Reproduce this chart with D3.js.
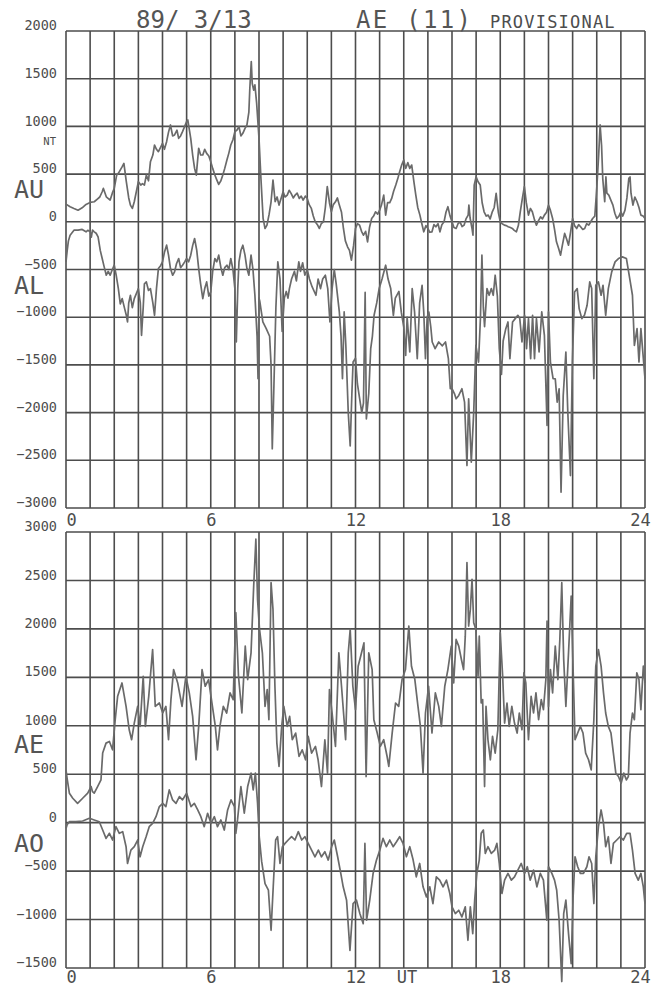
<!DOCTYPE html>
<html><head><meta charset="utf-8">
<script src="https://cdn.jsdelivr.net/npm/d3@7"></script>
<style>
html,body{margin:0;padding:0;background:#fff}
svg{display:block}
</style>
</head><body>
<svg id="chart" width="668" height="988"></svg>
<script>
// AE index family, 1989-03-13, provisional. Each series is [UT hour, nT].
const AU = [[0,185],[0.17,158],[0.33,140],[0.5,122],[0.67,147],[0.83,182],[1.0,203],[1.17,210],[1.3,238],[1.4,260],[1.5,315],[1.55,350],[1.67,262],[1.83,228],[1.92,300],[2.0,350],[2.1,490],[2.17,508],[2.33,578],[2.4,612],[2.5,420],[2.6,250],[2.67,175],[2.75,140],[2.83,210],[3.0,420],[3.1,385],[3.17,400],[3.25,385],[3.33,490],[3.42,430],[3.5,630],[3.6,700],[3.67,805],[3.75,760],[3.83,735],[3.92,780],[4.0,822],[4.08,760],[4.17,840],[4.25,940],[4.33,1015],[4.42,900],[4.5,910],[4.6,960],[4.67,875],[4.75,900],[4.83,945],[4.92,1000],[5.0,1050],[5.05,1067],[5.17,875],[5.25,700],[5.33,560],[5.4,490],[5.5,770],[5.58,700],[5.67,700],[5.75,760],[5.83,717],[5.92,690],[6.0,630],[6.08,560],[6.17,490],[6.25,440],[6.33,392],[6.42,430],[6.5,490],[6.58,560],[6.67,647],[6.75,720],[6.83,805],[6.92,860],[7.0,945],[7.08,960],[7.17,997],[7.25,900],[7.33,927],[7.42,980],[7.5,1015],[7.58,1150],[7.62,1400],[7.68,1680],[7.72,1450],[7.78,1380],[7.83,1435],[7.9,1250],[8.0,875],[8.08,455],[8.17,35],[8.25,-70],[8.33,-35],[8.42,80],[8.5,210],[8.58,438],[8.67,210],[8.75,260],[8.83,175],[8.92,250],[9.0,315],[9.08,260],[9.17,280],[9.25,330],[9.33,298],[9.42,250],[9.5,280],[9.58,300],[9.67,245],[9.75,270],[9.83,228],[9.92,270],[10.0,245],[10.08,180],[10.17,140],[10.25,60],[10.33,0],[10.42,-30],[10.5,-70],[10.58,-20],[10.67,0],[10.75,150],[10.83,368],[10.92,200],[11.0,105],[11.08,180],[11.17,210],[11.25,250],[11.33,175],[11.42,100],[11.5,-70],[11.58,-200],[11.67,-262],[11.75,-300],[11.83,-402],[11.92,-250],[12.0,-70],[12.08,-20],[12.17,-35],[12.25,-100],[12.33,-140],[12.42,-100],[12.5,-210],[12.58,-60],[12.67,35],[12.75,60],[12.83,105],[12.92,80],[13.0,122],[13.08,180],[13.17,280],[13.25,70],[13.33,200],[13.42,200],[13.5,245],[13.58,320],[13.67,385],[13.75,450],[13.83,525],[13.92,600],[14.0,647],[14.08,560],[14.17,620],[14.25,560],[14.33,595],[14.42,420],[14.5,280],[14.58,150],[14.67,70],[14.75,-20],[14.83,-105],[14.92,-40],[15.0,-70],[15.08,-110],[15.17,-105],[15.25,-30],[15.33,-52],[15.42,-20],[15.5,-105],[15.58,-30],[15.67,0],[15.75,100],[15.83,158],[15.92,60],[16.0,0],[16.08,-60],[16.17,-70],[16.25,-20],[16.33,0],[16.42,-50],[16.5,-35],[16.58,30],[16.67,70],[16.7,175],[16.75,40],[16.83,-70],[16.87,-140],[16.92,385],[17.0,472],[17.08,420],[17.17,385],[17.25,200],[17.33,105],[17.42,60],[17.5,70],[17.58,30],[17.67,105],[17.75,150],[17.83,298],[17.92,100],[18.0,0],[18.08,-20],[18.17,-35],[18.25,-40],[18.33,-52],[18.42,-60],[18.5,-70],[18.58,-90],[18.67,-105],[18.75,-40],[18.83,105],[18.92,250],[19.0,368],[19.08,200],[19.17,70],[19.25,140],[19.33,105],[19.42,20],[19.5,-35],[19.58,10],[19.67,52],[19.75,30],[19.83,70],[19.92,100],[20.0,175],[20.08,120],[20.17,35],[20.25,-80],[20.33,-210],[20.42,-280],[20.5,-350],[20.58,-240],[20.67,-122],[20.75,-180],[20.83,-245],[20.92,-100],[21.0,35],[21.08,-40],[21.17,-70],[21.25,-30],[21.33,-52],[21.42,-80],[21.5,-70],[21.58,-20],[21.67,-35],[21.75,0],[21.83,35],[21.92,60],[22.0,350],[22.08,700],[22.14,1015],[22.2,800],[22.25,450],[22.33,210],[22.38,470],[22.42,300],[22.5,280],[22.58,230],[22.67,175],[22.75,90],[22.83,35],[22.92,60],[23.0,105],[23.08,60],[23.17,122],[23.25,250],[23.33,455],[23.38,470],[23.42,300],[23.5,175],[23.58,260],[23.67,210],[23.75,150],[23.83,70],[23.92,60],[24.0,35]];

const AL = [[0,-420],[0.05,-300],[0.1,-200],[0.17,-140],[0.33,-88],[0.5,-88],[0.67,-80],[0.83,-105],[0.9,-90],[1.0,-100],[1.05,-160],[1.1,-88],[1.17,-105],[1.25,-120],[1.33,-158],[1.42,-300],[1.5,-385],[1.58,-470],[1.67,-560],[1.75,-520],[1.83,-560],[1.92,-500],[2.0,-455],[2.08,-560],[2.17,-700],[2.25,-860],[2.33,-805],[2.42,-900],[2.5,-980],[2.55,-1050],[2.6,-850],[2.67,-770],[2.75,-900],[2.83,-805],[2.92,-750],[3.0,-700],[3.08,-850],[3.13,-1190],[3.2,-900],[3.25,-650],[3.33,-630],[3.42,-720],[3.5,-700],[3.6,-850],[3.67,-980],[3.75,-700],[3.83,-490],[3.92,-460],[4.0,-420],[4.08,-320],[4.17,-245],[4.25,-350],[4.33,-490],[4.42,-560],[4.5,-525],[4.58,-440],[4.67,-385],[4.75,-480],[4.83,-455],[4.92,-420],[5.0,-385],[5.08,-420],[5.17,-350],[5.25,-250],[5.33,-175],[5.42,-300],[5.5,-490],[5.58,-650],[5.67,-805],[5.75,-700],[5.83,-630],[5.92,-780],[6.0,-735],[6.08,-520],[6.17,-385],[6.25,-420],[6.33,-350],[6.42,-480],[6.5,-560],[6.58,-480],[6.67,-455],[6.75,-500],[6.83,-385],[6.92,-500],[7.0,-700],[7.06,-1260],[7.12,-700],[7.17,-420],[7.25,-300],[7.33,-245],[7.42,-350],[7.5,-490],[7.58,-560],[7.67,-350],[7.75,-500],[7.83,-770],[7.92,-1200],[7.96,-1645],[8.0,-800],[8.03,-830],[8.16,-1050],[8.3,-1120],[8.44,-1200],[8.5,-1500],[8.55,-2380],[8.62,-1700],[8.7,-900],[8.78,-420],[8.87,-600],[8.96,-1150],[9.05,-800],[9.13,-730],[9.2,-800],[9.26,-700],[9.35,-600],[9.47,-520],[9.55,-620],[9.65,-420],[9.72,-520],[9.81,-430],[9.9,-560],[10.0,-500],[10.09,-600],[10.2,-680],[10.36,-770],[10.45,-600],[10.55,-700],[10.64,-600],[10.75,-560],[10.85,-700],[10.94,-1050],[11.03,-700],[11.12,-500],[11.2,-650],[11.33,-945],[11.4,-1200],[11.46,-1645],[11.53,-945],[11.6,-1300],[11.7,-2000],[11.78,-2350],[11.85,-1800],[11.9,-1470],[12.0,-1430],[12.08,-1700],[12.17,-1850],[12.26,-2000],[12.33,-1900],[12.4,-740],[12.45,-2065],[12.55,-1800],[12.63,-1330],[12.7,-1200],[12.77,-980],[12.88,-850],[12.98,-700],[13.1,-600],[13.25,-455],[13.35,-600],[13.46,-700],[13.57,-980],[13.65,-800],[13.8,-730],[13.9,-950],[14.0,-1100],[14.08,-1400],[14.14,-1000],[14.25,-1365],[14.35,-700],[14.45,-950],[14.56,-1435],[14.66,-850],[14.76,-665],[14.83,-950],[14.9,-1435],[14.97,-1000],[15.04,-945],[15.12,-1100],[15.18,-1260],[15.3,-1330],[15.45,-1260],[15.6,-1300],[15.73,-1260],[15.85,-1435],[15.93,-1750],[16.0,-1750],[16.1,-1800],[16.17,-1855],[16.28,-1820],[16.41,-1750],[16.52,-1890],[16.62,-2555],[16.69,-1855],[16.8,-2520],[16.9,-1995],[16.99,-1295],[17.1,-1470],[17.18,-1000],[17.24,-350],[17.3,-900],[17.35,-1100],[17.45,-700],[17.54,-770],[17.63,-700],[17.71,-770],[17.79,-560],[17.88,-780],[17.96,-1330],[18.05,-1600],[18.12,-1250],[18.23,-1120],[18.32,-1050],[18.4,-1435],[18.51,-1050],[18.62,-1015],[18.73,-980],[18.81,-1015],[18.9,-1260],[19.01,-980],[19.09,-1330],[19.17,-1015],[19.26,-1435],[19.34,-980],[19.42,-1435],[19.5,-1015],[19.61,-1365],[19.72,-945],[19.83,-1190],[19.94,-2135],[20.0,-945],[20.08,-1470],[20.19,-1645],[20.28,-1645],[20.36,-1890],[20.44,-1750],[20.52,-2835],[20.61,-1820],[20.72,-1365],[20.8,-1995],[20.91,-2660],[20.99,-1470],[21.08,-735],[21.19,-700],[21.27,-910],[21.38,-1015],[21.49,-980],[21.6,-875],[21.71,-630],[21.79,-700],[21.88,-1645],[21.96,-665],[22.07,-630],[22.18,-770],[22.26,-665],[22.37,-980],[22.48,-700],[22.62,-525],[22.76,-420],[22.9,-385],[23.06,-368],[23.23,-385],[23.39,-630],[23.48,-770],[23.56,-1295],[23.67,-1120],[23.75,-1470],[23.83,-1120],[24.0,-1645]];

const AE = [[0,545],[0.05,450],[0.14,304],[0.28,252],[0.48,200],[0.69,252],[0.9,304],[1.04,373],[1.1,320],[1.17,304],[1.31,373],[1.45,442],[1.52,718],[1.66,821],[1.8,838],[1.93,752],[2.04,1063],[2.14,1304],[2.32,1442],[2.49,1200],[2.62,959],[2.72,856],[2.83,1028],[2.97,1200],[3.07,994],[3.2,1511],[3.29,994],[3.43,1304],[3.59,1787],[3.7,1200],[3.87,1235],[4.01,1132],[4.14,1200],[4.25,856],[4.35,1270],[4.46,1580],[4.63,1442],[4.81,1200],[4.97,1511],[5.11,1339],[5.25,1097],[5.39,649],[5.5,994],[5.64,1580],[5.77,1408],[5.91,1477],[6.05,1235],[6.19,994],[6.28,752],[6.38,994],[6.52,1200],[6.66,1132],[6.8,1339],[6.93,1270],[7.04,2167],[7.15,1511],[7.29,1132],[7.43,1822],[7.53,1477],[7.67,1753],[7.78,2443],[7.87,2926],[7.94,2305],[8.02,2000],[8.14,1753],[8.25,1200],[8.34,1373],[8.41,1063],[8.5,2477],[8.58,2201],[8.66,1408],[8.74,821],[8.83,580],[8.94,994],[9.03,1200],[9.17,994],[9.27,1097],[9.38,856],[9.52,925],[9.66,683],[9.79,752],[9.93,649],[10.04,890],[10.18,718],[10.34,787],[10.45,649],[10.59,373],[10.73,856],[10.84,511],[10.92,1373],[11.03,1132],[11.17,787],[11.31,1753],[11.42,1408],[11.59,856],[11.7,1753],[11.78,1995],[11.89,1408],[12.0,1166],[12.11,1615],[12.25,1753],[12.35,1856],[12.44,476],[12.55,1753],[12.69,1580],[12.76,1063],[12.9,925],[13.03,787],[13.17,856],[13.31,683],[13.38,580],[13.52,925],[13.66,1235],[13.79,1200],[13.93,1477],[14.07,1580],[14.21,2029],[14.32,1615],[14.46,1477],[14.59,1200],[14.69,994],[14.8,511],[14.9,1132],[15.03,1408],[15.17,925],[15.31,1339],[15.45,1200],[15.56,994],[15.7,1408],[15.83,1580],[15.97,1822],[16.07,1442],[16.17,1891],[16.28,1822],[16.39,1684],[16.48,1580],[16.55,1925],[16.62,2684],[16.69,2029],[16.76,2201],[16.83,2512],[16.9,2063],[16.99,1995],[17.08,1511],[17.13,1925],[17.21,1235],[17.27,1270],[17.35,373],[17.41,1200],[17.49,856],[17.59,649],[17.68,890],[17.79,718],[17.9,959],[18.0,1960],[18.1,1511],[18.18,1028],[18.28,1235],[18.37,994],[18.48,1200],[18.59,1028],[18.7,925],[18.79,1132],[18.9,959],[18.98,1546],[19.06,1442],[19.17,856],[19.28,1304],[19.38,1132],[19.48,1339],[19.59,1063],[19.7,1270],[19.79,1166],[19.89,1477],[19.94,2080],[20.0,1200],[20.08,1580],[20.17,1339],[20.28,1822],[20.39,1477],[20.47,1891],[20.55,2477],[20.63,1684],[20.72,1200],[20.83,1753],[20.94,2339],[21.02,1580],[21.1,856],[21.21,925],[21.32,994],[21.43,925],[21.54,718],[21.66,649],[21.77,545],[21.88,1063],[21.96,1615],[22.07,1787],[22.18,1615],[22.28,1339],[22.37,1132],[22.48,994],[22.59,925],[22.69,718],[22.79,511],[22.9,476],[23.01,407],[23.12,511],[23.23,442],[23.31,476],[23.38,925],[23.48,1132],[23.56,1063],[23.66,1546],[23.75,1477],[23.83,1166],[23.93,1615],[24.0,1442]];

const AO = [[0,-59],[0.05,-20],[0.14,10],[0.41,10],[0.69,17],[0.97,45],[1.17,28],[1.38,10],[1.52,-76],[1.66,-162],[1.8,-110],[1.93,-179],[2.07,-41],[2.21,-110],[2.35,-93],[2.49,-248],[2.55,-421],[2.69,-283],[2.83,-248],[2.97,-179],[3.07,-352],[3.18,-248],[3.32,-145],[3.45,-41],[3.59,-7],[3.73,62],[3.87,166],[4.01,200],[4.14,166],[4.28,338],[4.42,235],[4.56,200],[4.7,269],[4.83,235],[5.0,304],[5.18,166],[5.32,200],[5.46,131],[5.59,62],[5.73,-41],[5.87,97],[6.01,-7],[6.15,62],[6.28,-41],[6.42,28],[6.56,-76],[6.7,131],[6.84,235],[6.98,166],[7.04,-110],[7.11,28],[7.25,373],[7.39,97],[7.53,373],[7.67,511],[7.76,338],[7.85,511],[7.94,200],[8.01,-145],[8.11,-400],[8.25,-628],[8.39,-697],[8.5,-1111],[8.59,-662],[8.69,-179],[8.77,-145],[8.87,-421],[8.97,-248],[9.08,-214],[9.21,-179],[9.35,-145],[9.49,-179],[9.63,-93],[9.77,-179],[9.9,-145],[10.04,-214],[10.18,-283],[10.32,-352],[10.46,-283],[10.59,-352],[10.73,-300],[10.87,-386],[11.01,-248],[11.12,-179],[11.26,-352],[11.39,-524],[11.49,-662],[11.63,-800],[11.77,-1318],[11.9,-835],[12.04,-800],[12.18,-938],[12.32,-1042],[12.39,-214],[12.46,-1007],[12.59,-800],[12.73,-524],[12.87,-386],[13.01,-283],[13.14,-162],[13.28,-248],[13.42,-179],[13.56,-248],[13.7,-197],[13.83,-145],[13.97,-214],[14.11,-352],[14.25,-248],[14.39,-386],[14.52,-559],[14.66,-421],[14.8,-662],[14.94,-766],[15.08,-662],[15.21,-835],[15.35,-559],[15.49,-593],[15.63,-662],[15.77,-593],[15.91,-731],[16.0,-869],[16.14,-938],[16.28,-904],[16.41,-973],[16.55,-869],[16.66,-1214],[16.76,-869],[16.86,-1145],[16.94,-800],[17.03,-524],[17.13,-386],[17.21,-110],[17.3,-76],[17.38,-317],[17.49,-248],[17.63,-317],[17.77,-283],[17.86,-214],[17.96,-421],[18.07,-731],[18.18,-593],[18.32,-524],[18.46,-593],[18.59,-559],[18.73,-490],[18.87,-421],[19.01,-524],[19.12,-455],[19.24,-593],[19.38,-490],[19.52,-662],[19.66,-524],[19.79,-593],[19.93,-1007],[20.0,-455],[20.14,-524],[20.25,-593],[20.34,-697],[20.44,-1007],[20.55,-1640],[20.63,-938],[20.72,-800],[20.83,-1145],[20.94,-1456],[21.02,-766],[21.1,-352],[21.21,-455],[21.32,-524],[21.45,-524],[21.59,-455],[21.68,-352],[21.79,-421],[21.88,-835],[21.96,-352],[22.07,-41],[22.18,131],[22.28,-7],[22.37,-248],[22.48,-145],[22.59,-421],[22.69,-214],[22.83,-179],[22.97,-145],[23.1,-179],[23.24,-110],[23.38,-110],[23.48,-283],[23.59,-524],[23.72,-593],[23.83,-524],[23.93,-662],[24.0,-835]];

const hourLabels = [0, 6, 12, 18, 24];
const topTicks = [2000, 1500, 1000, 500, 0, -500, -1000, -1500, -2000, -2500, -3000];
const bottomTicks = [3000, 2500, 2000, 1500, 1000, 500, 0, -500, -1000, -1500];

const svg = d3.select('#chart');
const ink = '#4d4d4d';
const trace = '#6a6a6a';
const mono = '"DejaVu Sans Mono", "Liberation Mono", monospace';

svg.append('rect').attr('width', 668).attr('height', 988).attr('fill', '#fff');

const x = d3.scaleLinear().domain([0, 24]).range([66, 645]);
const hours = d3.range(0, 25);

const panels = [
  { y: d3.scaleLinear().domain([-3000, 2000]).range([508, 31]), ticks: topTicks,
    series: [AU, AL], names: [['AU', 198], ['AL', 294]], base: 526 },
  { y: d3.scaleLinear().domain([-1500, 3000]).range([968, 532]), ticks: bottomTicks,
    series: [AE, AO], names: [['AE', 753], ['AO', 852]], base: 983 }
];

panels.forEach(p => {
  const g = svg.append('g');
  const [y0, y1] = p.y.range();
  // hourly verticals
  g.selectAll('line.v').data(hours).join('line')
    .attr('x1', d => x(d)).attr('x2', d => x(d))
    .attr('y1', y1).attr('y2', y0)
    .attr('stroke', ink).attr('stroke-width', 1.6);
  // 500 nT horizontals
  g.selectAll('line.h').data(p.ticks).join('line')
    .attr('x1', x(0)).attr('x2', x(24))
    .attr('y1', d => p.y(d)).attr('y2', d => p.y(d))
    .attr('stroke', ink).attr('stroke-width', 1.6);

  // value labels on the left
  const ya = svg.append('g').attr('transform', `translate(${x(0) - 1},0)`)
    .call(d3.axisLeft(p.y).tickValues(p.ticks).tickSize(0).tickPadding(8).tickFormat(d3.format('d')));
  ya.select('.domain').remove();
  ya.selectAll('text').attr('dy', '-0.1em')
    .attr('font-family', mono).attr('font-size', 13.5).attr('fill', ink);

  // UT hour labels
  const xa = svg.append('g').attr('transform', `translate(0,${p.base - 12})`)
    .call(d3.axisBottom(x).tickValues(hourLabels).tickSize(0).tickPadding(0));
  xa.select('.domain').remove();
  xa.selectAll('text').attr('dy', '0.71em')
    .attr('dx', d => d === 0 ? 5 : (d === 24 ? -5 : 0))
    .attr('font-family', mono).attr('font-size', 17).attr('fill', ink);

  // traces
  const line = d3.line().x(d => x(d[0])).y(d => p.y(d[1]));
  p.series.forEach(s => {
    svg.append('path').datum(s).attr('d', line)
      .attr('fill', 'none').attr('stroke', trace)
      .attr('stroke-width', 1.7).attr('stroke-linejoin', 'round');
  });

  // series names
  p.names.forEach(([t, by]) => {
    svg.append('text').attr('x', 14).attr('y', by).text(t)
      .attr('font-family', mono).attr('font-size', 25).attr('fill', '#555');
  });
});

// unit label under 1000
svg.append('text').attr('x', 56).attr('y', 145).attr('text-anchor', 'end').text('NT')
  .attr('font-family', mono).attr('font-size', 10.5).attr('fill', ink);

// UT label
svg.append('text').attr('x', 407).attr('y', 983).attr('text-anchor', 'middle').text('UT')
  .attr('font-family', mono).attr('font-size', 17).attr('fill', ink);

// heading
svg.append('text').attr('x', 136).attr('y', 28).text('89/ 3/13')
  .attr('font-family', mono).attr('font-size', 24).attr('fill', '#555');
svg.append('text').attr('x', 356).attr('y', 28).text('AE (11)')
  .attr('font-family', mono).attr('font-size', 24).attr('letter-spacing', 2.3).attr('fill', '#555');
svg.append('text').attr('x', 490).attr('y', 28).text('PROVISIONAL')
  .attr('font-family', mono).attr('font-size', 17).attr('letter-spacing', 1.2).attr('fill', ink);
</script>
</body></html>
